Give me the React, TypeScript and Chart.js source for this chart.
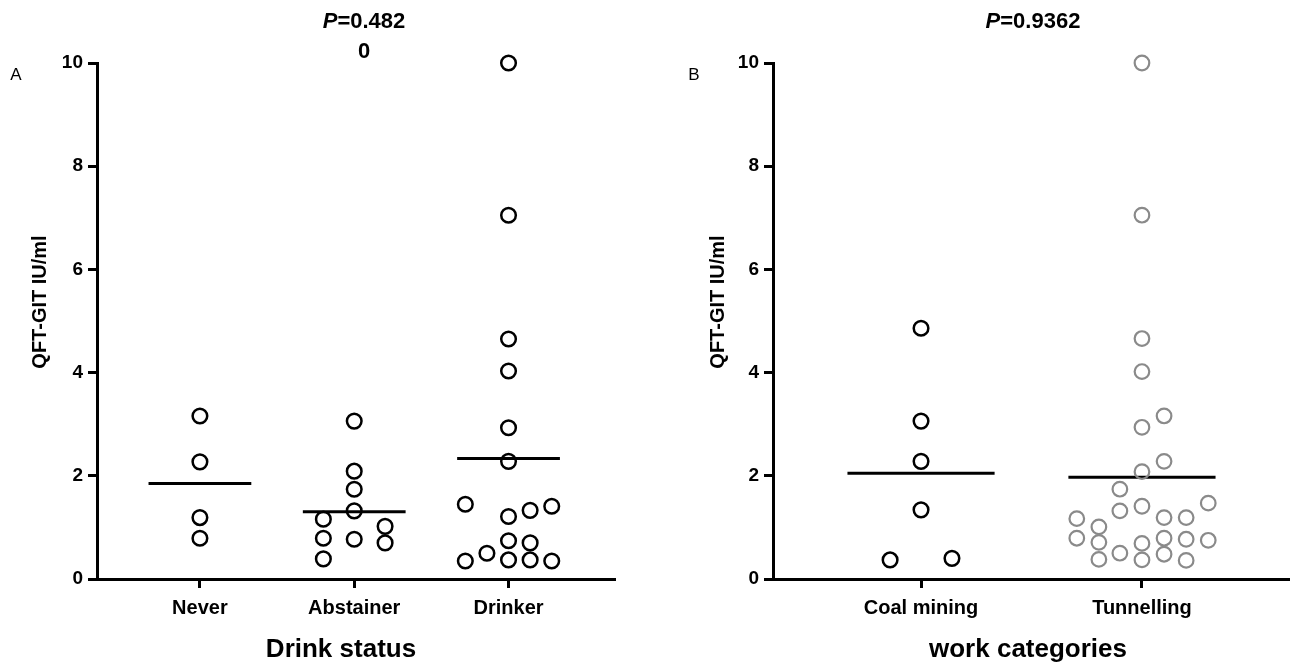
import React, { useEffect, useRef } from "react";
import { Chart, registerables } from "chart.js";
Chart.register(...registerables);

const FONT = "'Liberation Sans', Arial, sans-serif";

// Panel A: drink status
const drinkCategories = ["Never", "Abstainer", "Drinker"];
const neverValues = [3.16, 2.27, 1.19, 0.79];
const neverOffsets = [0, 0, 0, 0];
const abstainerValues = [1.16, 0.79, 0.39, 3.06, 2.09, 1.74, 1.32, 0.77, 1.02, 0.7];
const abstainerOffsets = [-0.2, -0.2, -0.2, 0, 0, 0, 0, 0, 0.2, 0.2];
const drinkerValues = [1.45, 0.35, 0.5, 10, 7.05, 4.65, 4.03, 2.93, 2.28, 1.21, 0.74, 0.37, 1.33, 0.7, 0.37, 1.41, 0.35];
const drinkerOffsets = [-0.28, -0.28, -0.14, 0, 0, 0, 0, 0, 0, 0, 0, 0, 0.14, 0.14, 0.14, 0.28, 0.28];

// Panel B: work categories
const workCategories = ["Coal mining", "Tunnelling"];
const coalValues = [4.86, 3.06, 2.28, 1.34, 0.37, 0.4];
const coalOffsets = [0, 0, 0, 0, -0.14, 0.14];
const tunnelValues = [
  10, 7.05, 4.66, 4.02, 2.94, 2.08, 1.41, 0.69, 0.37,
  3.16, 2.28, 1.19, 0.79, 0.48,
  1.74, 1.32, 0.5,
  1.17, 0.79,
  1.01, 0.71, 0.38,
  1.19, 0.77, 0.36,
  1.47, 0.75,
];
const tunnelOffsets = [
  0, 0, 0, 0, 0, 0, 0, 0, 0,
  0.1, 0.1, 0.1, 0.1, 0.1,
  -0.1, -0.1, -0.1,
  -0.295, -0.295,
  -0.195, -0.195, -0.195,
  0.2, 0.2, 0.2,
  0.3, 0.3,
];

const yTicks = [0, 2, 4, 6, 8, 10];

const mean = (a: number[]) => a.reduce((s, v) => s + v, 0) / a.length;

function pointsDataset(values: number[], offsets: number[], cat: number, color: string, bw: number) {
  return {
    type: "scatter" as const,
    data: values.map((v, i) => ({ x: cat + offsets[i], y: v })),
    pointRadius: 7.3,
    pointHoverRadius: 7.3,
    pointBorderWidth: bw,
    pointBorderColor: color,
    pointBackgroundColor: "rgba(0,0,0,0)",
    showLine: false,
    clip: false,
  };
}

function meanDataset(values: number[], cat: number) {
  const m = mean(values);
  return {
    type: "line" as const,
    data: [
      { x: cat - 0.333, y: m },
      { x: cat + 0.333, y: m },
    ],
    borderColor: "#000",
    borderWidth: 3,
    pointRadius: 0,
    clip: false,
  };
}

type Texts = {
  letter: string;
  letterX: number;
  titleLines: { p: boolean; text: string }[];
  titleX: number;
  yTitleX: number;
  yTitleY: number;
  xTitle: string;
  xTitleX: number;
};

function textPlugin(t: Texts) {
  return {
    id: "texts",
    afterDraw(chart: any) {
      const ctx = chart.ctx as CanvasRenderingContext2D;
      ctx.save();
      ctx.fillStyle = "#000";
      ctx.textBaseline = "middle";
      // panel letter
      ctx.font = `17px ${FONT}`;
      ctx.textAlign = "center";
      ctx.fillText(t.letter, t.letterX, 75);
      // title lines
      const tf = 22;
      t.titleLines.forEach((ln, i) => {
        const y = 22 + i * 30;
        ctx.textAlign = "left";
        if (ln.p) {
          ctx.font = `italic bold ${tf}px ${FONT}`;
          const pw = ctx.measureText("P").width;
          ctx.font = `bold ${tf}px ${FONT}`;
          const rw = ctx.measureText(ln.text).width;
          const x0 = t.titleX - (pw + rw) / 2;
          ctx.font = `italic bold ${tf}px ${FONT}`;
          ctx.fillText("P", x0, y);
          ctx.font = `bold ${tf}px ${FONT}`;
          ctx.fillText(ln.text, x0 + pw, y);
        } else {
          ctx.font = `bold ${tf}px ${FONT}`;
          ctx.textAlign = "center";
          ctx.fillText(ln.text, t.titleX, y);
        }
      });
      // y title
      ctx.save();
      ctx.translate(t.yTitleX, t.yTitleY);
      ctx.rotate(-Math.PI / 2);
      ctx.textAlign = "center";
      ctx.font = `bold 20px ${FONT}`;
      ctx.fillText("QFT-GIT IU/ml", 0, 0);
      ctx.restore();
      // x title
      ctx.textAlign = "center";
      ctx.font = `bold 26px ${FONT}`;
      ctx.fillText(t.xTitle, t.xTitleX, 650);
      ctx.restore();
    },
  };
}

function makeConfig(
  datasets: any[],
  categories: string[],
  xMin: number,
  xMax: number,
  yWidth: number,
  padRight: number,
  texts: Texts
): any {
  return {
    type: "scatter",
    data: { datasets },
    plugins: [textPlugin(texts)],
    options: {
      animation: false,
      responsive: false,
      events: [],
      layout: { autoPadding: false, padding: { top: 63, right: padRight, left: 0, bottom: 0 } },
      plugins: { legend: { display: false }, tooltip: { enabled: false }, title: { display: false } },
      scales: {
        x: {
          type: "linear",
          min: xMin,
          max: xMax,
          afterBuildTicks: (scale: any) => {
            scale.ticks = categories.map((_, i) => ({ value: i + 1 }));
          },
          afterFit: (scale: any) => {
            scale.height = 85;
          },
          ticks: {
            autoSkip: false,
            maxRotation: 0,
            padding: 8,
            color: "#000",
            font: { family: FONT, size: 20, weight: "bold" },
            callback: (v: number) => categories[Math.round(v) - 1] ?? "",
          },
          grid: { drawOnChartArea: false, drawTicks: true, tickLength: 9, tickWidth: 3, tickColor: "#000" },
          border: { display: true, width: 3, color: "#000" },
        },
        y: {
          type: "linear",
          min: 0,
          max: 10,
          afterBuildTicks: (scale: any) => {
            scale.ticks = yTicks.map((v) => ({ value: v }));
          },
          afterFit: (scale: any) => {
            scale.width = yWidth;
          },
          ticks: {
            padding: 5,
            color: "#000",
            font: { family: FONT, size: 19, weight: "bold" },
            callback: (v: number) => String(v),
          },
          grid: { drawOnChartArea: false, drawTicks: true, tickLength: 9, tickWidth: 3, tickColor: "#000" },
          border: { display: true, width: 3, color: "#000" },
        },
      },
    },
  };
}

export default function App() {
  const refA = useRef<HTMLCanvasElement>(null);
  const refB = useRef<HTMLCanvasElement>(null);

  useEffect(() => {
    const dsA = [
      pointsDataset(neverValues, neverOffsets, 1, "#000", 2.5),
      pointsDataset(abstainerValues, abstainerOffsets, 2, "#000", 2.5),
      pointsDataset(drinkerValues, drinkerOffsets, 3, "#000", 2.5),
      meanDataset(neverValues, 1),
      meanDataset(abstainerValues, 2),
      meanDataset(drinkerValues, 3),
    ];
    const dsB = [
      pointsDataset(coalValues, coalOffsets, 1, "#000", 2.5),
      pointsDataset(tunnelValues, tunnelOffsets, 2, "#8a8a8a", 2.2),
      meanDataset(coalValues, 1),
      meanDataset(tunnelValues, 2),
    ];
    const chartA = new Chart(
      refA.current!,
      makeConfig(dsA, drinkCategories, 0.333, 3.69, 97, 30, {
        letter: "A",
        letterX: 16,
        titleLines: [
          { p: true, text: "=0.482" },
          { p: false, text: "0" },
        ],
        titleX: 364,
        yTitleX: 40,
        yTitleY: 302,
        xTitle: "Drink status",
        xTitleX: 341,
      })
    );
    const chartB = new Chart(
      refB.current!,
      makeConfig(dsB, workCategories, 0.33, 2.67, 128, 0, {
        letter: "B",
        letterX: 49,
        titleLines: [{ p: true, text: "=0.9362" }],
        titleX: 1033 - 645,
        yTitleX: 718 - 645,
        yTitleY: 302,
        xTitle: "work categories",
        xTitleX: 1028 - 645,
      })
    );
    return () => {
      chartA.destroy();
      chartB.destroy();
    };
  }, []);

  return (
    <div style={{ position: "absolute", left: 0, top: 0, width: 1290, height: 664, background: "#fff" }}>
      <canvas ref={refA} width={645} height={664} style={{ position: "absolute", left: 0, top: 0, width: 645, height: 664 }} />
      <canvas ref={refB} width={645} height={664} style={{ position: "absolute", left: 645, top: 0, width: 645, height: 664 }} />
    </div>
  );
}
